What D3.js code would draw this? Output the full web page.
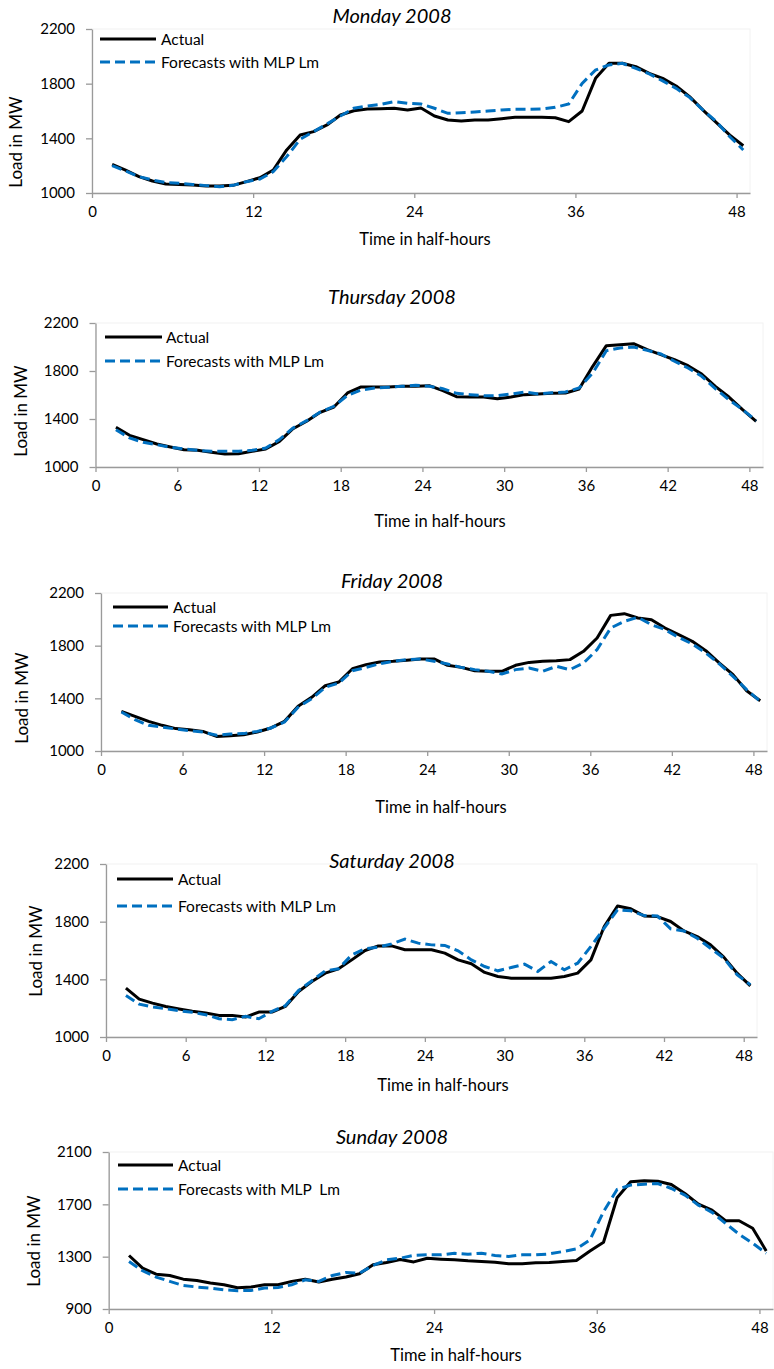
<!DOCTYPE html>
<html>
<head>
<meta charset="utf-8">
<script src="https://cdn.jsdelivr.net/npm/d3@7"></script>
<style>
  body { margin: 0; background: #fff; }
  svg { display: block; font-family: Lato, "Open Sans", sans-serif; }
  .tick text { fill: #000; }
</style>
</head>
<body>
<svg id="chart" width="774" height="1369"></svg>
<script>
// loads in MW for half-hours 1..48
const monActual = [1210,1168,1120,1088,1066,1063,1058,1051,1051,1056,1083,1112,1168,1315,1424,1449,1498,1571,1602,1615,1617,1620,1607,1622,1563,1534,1527,1534,1534,1544,1554,1554,1554,1551,1522,1600,1839,1949,1949,1924,1876,1839,1783,1705,1607,1515,1424,1346];
const monForecast = [1200,1161,1120,1095,1076,1071,1063,1054,1046,1056,1083,1102,1156,1266,1393,1449,1505,1563,1620,1637,1649,1668,1656,1651,1620,1583,1588,1593,1600,1607,1612,1612,1615,1627,1651,1802,1900,1937,1949,1912,1871,1820,1766,1700,1607,1522,1412,1315];

const thuActual = [1331,1264,1228,1192,1167,1144,1139,1122,1108,1111,1131,1150,1214,1319,1381,1456,1500,1617,1667,1667,1667,1672,1672,1678,1636,1586,1583,1583,1569,1583,1603,1608,1614,1617,1650,1839,2011,2019,2028,1978,1936,1894,1844,1775,1672,1583,1478,1381];
const thuForecast = [1311,1242,1206,1186,1164,1150,1139,1131,1131,1131,1139,1158,1228,1325,1386,1458,1506,1597,1642,1658,1664,1672,1681,1672,1653,1614,1603,1594,1594,1608,1625,1608,1619,1625,1658,1783,1969,1992,2000,1972,1942,1881,1825,1756,1653,1561,1478,1386];

const friActual = [1301,1263,1225,1195,1170,1162,1149,1111,1116,1124,1144,1175,1225,1339,1408,1496,1524,1625,1656,1676,1681,1689,1699,1699,1651,1635,1610,1605,1605,1651,1673,1681,1686,1694,1757,1858,2030,2043,2010,1997,1934,1884,1833,1762,1668,1580,1458,1382];
const friForecast = [1296,1238,1195,1182,1167,1154,1144,1119,1129,1132,1149,1175,1220,1332,1397,1484,1516,1610,1635,1663,1681,1694,1699,1681,1661,1635,1618,1605,1585,1618,1630,1605,1643,1618,1668,1770,1934,1985,2015,1959,1922,1863,1813,1744,1661,1567,1466,1377];

const satActual = [1339,1263,1235,1212,1194,1178,1166,1150,1150,1138,1173,1173,1212,1316,1385,1443,1473,1535,1600,1632,1632,1605,1605,1605,1582,1535,1508,1448,1420,1408,1408,1408,1408,1420,1443,1535,1766,1909,1889,1840,1835,1801,1736,1697,1639,1554,1443,1355];
const satForecast = [1288,1228,1208,1196,1182,1171,1155,1127,1120,1143,1127,1178,1217,1323,1390,1459,1473,1570,1612,1623,1646,1679,1651,1639,1635,1598,1535,1489,1459,1482,1505,1455,1524,1466,1512,1628,1755,1882,1875,1842,1840,1750,1736,1685,1616,1547,1432,1362];

const sunActual = [1309,1212,1166,1156,1128,1118,1098,1085,1062,1068,1085,1085,1111,1128,1106,1128,1144,1169,1238,1255,1278,1260,1288,1281,1276,1268,1263,1258,1245,1245,1253,1255,1263,1271,1344,1410,1750,1872,1880,1877,1852,1783,1702,1656,1575,1575,1517,1344];
const sunForecast = [1263,1192,1144,1111,1080,1068,1060,1047,1040,1042,1060,1065,1085,1123,1111,1156,1179,1174,1232,1276,1288,1310,1314,1314,1326,1319,1326,1309,1301,1314,1314,1321,1339,1359,1428,1644,1814,1847,1854,1859,1821,1771,1694,1639,1555,1471,1403,1326];

// tick labels
const xTicks12 = [0, 12, 24, 36, 48];
const xTicks6 = [0, 6, 12, 18, 24, 30, 36, 42, 48];
const yTicksA = [1000, 1400, 1800, 2200];
const yTicksB = [900, 1300, 1700, 2100];

const titles = ["Monday 2008", "Thursday 2008", "Friday 2008", "Saturday 2008", "Sunday 2008"];
const seriesNames = ["Actual", "Forecasts with MLP Lm"];

// panel layout (pixels)
const panels = [
  { title: titles[0], actual: monActual, forecast: monForecast, xTicks: xTicks12, yTicks: yTicksA, fcName: seriesNames[1],
    left: 92, right: 750, top: 29, bottom: 193, titleY: 23, ylabX: 15, ylabY: 142, xlabX: 425, xlabY: 245,
    legX1: 100, legX2: 156, legTx: 161, legY: [39, 62] },
  { title: titles[1], actual: thuActual, forecast: thuForecast, xTicks: xTicks6, yTicks: yTicksA, fcName: seriesNames[1],
    left: 95.5, right: 763, top: 323, bottom: 467, titleY: 304, ylabX: 20, ylabY: 411, xlabX: 440, xlabY: 527,
    legX1: 105, legX2: 162, legTx: 166, legY: [337, 361] },
  { title: titles[2], actual: friActual, forecast: friForecast, xTicks: xTicks6, yTicks: yTicksA, fcName: seriesNames[1],
    left: 101, right: 767, top: 593, bottom: 751, titleY: 588, ylabX: 21, ylabY: 698, xlabX: 441, xlabY: 813,
    legX1: 113, legX2: 168, legTx: 173, legY: [607, 626] },
  { title: titles[3], actual: satActual, forecast: satForecast, xTicks: xTicks6, yTicks: yTicksA, fcName: seriesNames[1],
    left: 106, right: 757, top: 864, bottom: 1037, titleY: 868, ylabX: 35, ylabY: 951, xlabX: 443, xlabY: 1091,
    legX1: 117, legX2: 173, legTx: 178, legY: [879, 906] },
  { title: titles[4], actual: sunActual, forecast: sunForecast, xTicks: xTicks12, yTicks: yTicksB, fcName: "Forecasts with MLP  Lm",
    left: 108.7, right: 773, top: 1152, bottom: 1309, titleY: 1144, ylabX: 33, ylabY: 1241, xlabX: 456, xlabY: 1361,
    legX1: 118, legX2: 173, legTx: 178, legY: [1165, 1189] }
];

const blue = "#0070C0";
const axisColor = "#9a9a9a";
const svg = d3.select("#chart");

panels.forEach(p => {
  const g = svg.append("g");

  const x = d3.scaleLinear().domain([0, 49]).range([p.left, p.right]);
  const y = d3.scaleLinear().domain([p.yTicks[0], p.yTicks[p.yTicks.length - 1]]).range([p.bottom, p.top]);

  // faint plot area border
  g.append("rect")
    .attr("x", p.left).attr("y", p.top)
    .attr("width", p.right - p.left).attr("height", p.bottom - p.top)
    .attr("fill", "none").attr("stroke", "#f2f2f2");

  // axes
  const xAxis = g.append("g")
    .attr("transform", `translate(0,${p.bottom})`)
    .call(d3.axisBottom(x).tickValues(p.xTicks).tickSize(5).tickSizeOuter(0).tickPadding(8).tickFormat(d3.format("d")));
  const yAxis = g.append("g")
    .attr("transform", `translate(${p.left},0)`)
    .call(d3.axisLeft(y).tickValues(p.yTicks).tickSize(6).tickSizeOuter(0).tickPadding(11).tickFormat(d3.format("d")));
  [xAxis, yAxis].forEach(a => {
    a.selectAll("path, line").attr("stroke", axisColor).attr("stroke-width", 1.3);
    a.selectAll("text").attr("font-size", 15).attr("font-family", "Lato, sans-serif");
  });

  // lines: points sit at the middle of each half-hour
  const line = d3.line()
    .x((d, i) => x(i + 1.5))
    .y(d => y(d));

  g.append("path")
    .datum(p.actual)
    .attr("fill", "none")
    .attr("stroke", "#000")
    .attr("stroke-width", 3)
    .attr("stroke-linejoin", "round")
    .attr("d", line);

  g.append("path")
    .datum(p.forecast)
    .attr("fill", "none")
    .attr("stroke", blue)
    .attr("stroke-width", 3)
    .attr("stroke-dasharray", "10,5")
    .attr("d", line);

  // title
  g.append("text")
    .attr("x", 392).attr("y", p.titleY)
    .attr("text-anchor", "middle")
    .attr("font-size", 20).attr("font-style", "italic")
    .text(p.title);

  // axis titles
  g.append("text")
    .attr("transform", `translate(${p.ylabX},${p.ylabY}) rotate(-90)`)
    .attr("text-anchor", "middle")
    .attr("dominant-baseline", "central")
    .attr("font-size", 17)
    .text("Load in MW");

  g.append("text")
    .attr("x", p.xlabX).attr("y", p.xlabY)
    .attr("text-anchor", "middle")
    .attr("font-size", 16.5)
    .text("Time in half-hours");

  // legend
  const legend = [
    { name: seriesNames[0], color: "#000", dash: null },
    { name: p.fcName, color: blue, dash: "10,5" }
  ];
  legend.forEach((l, i) => {
    g.append("line")
      .attr("x1", p.legX1).attr("x2", p.legX2)
      .attr("y1", p.legY[i]).attr("y2", p.legY[i])
      .attr("stroke", l.color).attr("stroke-width", 3)
      .attr("stroke-dasharray", l.dash);
    g.append("text")
      .attr("x", p.legTx).attr("y", p.legY[i])
      .attr("dominant-baseline", "central")
      .attr("font-size", 15.5)
      .style("white-space", "pre")
      .text(l.name);
  });
});
</script>
</body>
</html>
